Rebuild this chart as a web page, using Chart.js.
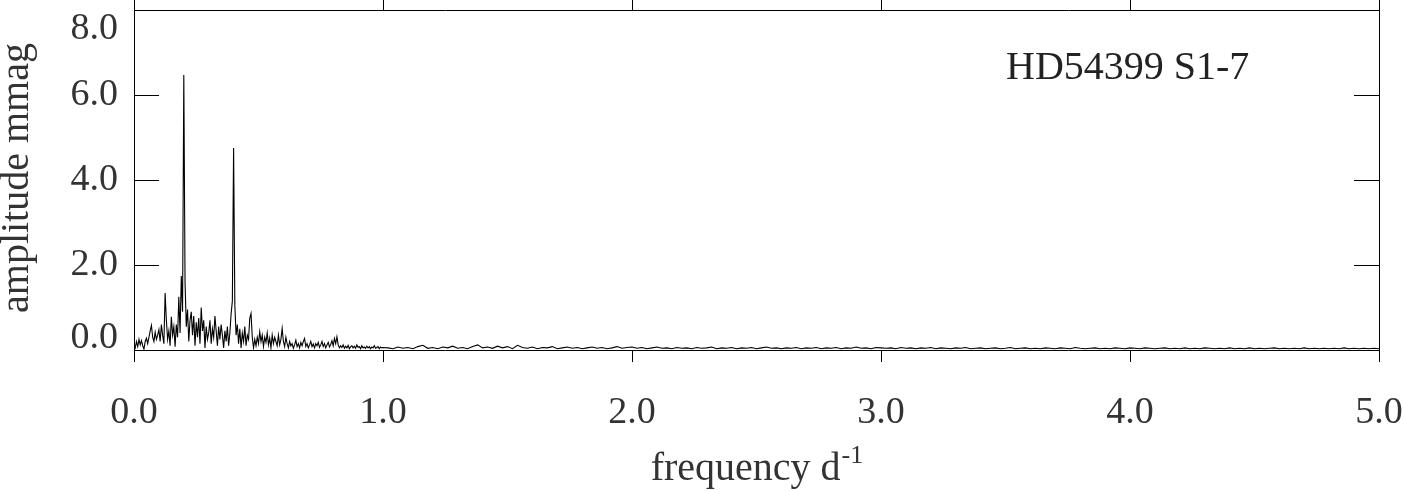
<!DOCTYPE html>
<html>
<head>
<meta charset="utf-8">
<script src="https://cdn.jsdelivr.net/npm/chart.js@4.4.1/dist/chart.umd.min.js"></script>
<style>
  html, body { margin: 0; padding: 0; background: #fff; }
  #wrap { width: 1404px; height: 491px; }
</style>
</head>
<body>
<div id="wrap"><canvas id="periodogram"></canvas></div>
<script>
// amplitude spectrum, 0.0 - 1.0 d-1, step 0.005
const lowStart = 0.0;
const lowStep = 0.005;
const lowAmp = [
  0.12, 0.05, 0.20, 0.08, 0.25, 0.12, 0.22, 0.10, 0.02, 0.20,
  0.28, 0.15, 0.30, 0.45, 0.58, 0.30, 0.20, 0.42, 0.25, 0.35,
  0.48, 0.20, 0.60, 0.35, 0.15, 1.34, 0.70, 0.25, 0.45, 0.10,
  0.78, 0.35, 0.55, 0.08, 0.60, 0.30, 1.25, 0.40, 1.74, 0.90,
  6.47, 1.60, 0.55, 0.95, 0.20, 0.70, 0.90, 0.35, 0.80, 0.10,
  0.65, 0.30, 0.75, 0.15, 1.00, 0.45, 0.70, 0.05, 0.55, 0.25,
  0.40, 0.70, 0.15, 0.50, 0.30, 0.80, 0.45, 0.10, 0.55, 0.25,
  0.60, 0.35, 0.05, 0.45, 0.20, 0.55, 0.10, 0.40, 0.85, 1.15,
  4.75, 1.05, 0.35, 0.60, 0.15, 0.50, 0.05, 0.40, 0.20, 0.55,
  0.10, 0.35, 0.25, 0.75, 0.86, 0.30, 0.05, 0.25, 0.10, 0.30,
  0.15, 0.43, 0.20, 0.35, 0.08, 0.30, 0.18, 0.40, 0.12, 0.28,
  0.05, 0.35, 0.15, 0.30, 0.20, 0.10, 0.35, 0.12, 0.25, 0.51,
  0.20, 0.08, 0.30, 0.15, 0.05, 0.20, 0.10, 0.15, 0.04, 0.12,
  0.23, 0.08, 0.15, 0.05, 0.18, 0.10, 0.20, 0.27, 0.08, 0.15,
  0.05, 0.12, 0.20, 0.08, 0.14, 0.05, 0.15, 0.10, 0.18, 0.06,
  0.12, 0.20, 0.08, 0.15, 0.05, 0.12, 0.18, 0.07, 0.13, 0.22,
  0.10, 0.27, 0.15, 0.31, 0.12, 0.05, 0.10, 0.06, 0.12, 0.04,
  0.09, 0.05, 0.11, 0.03, 0.08, 0.10, 0.05, 0.09, 0.04, 0.12,
  0.06, 0.08, 0.03, 0.10, 0.05, 0.07, 0.04, 0.09, 0.05, 0.08,
  0.03, 0.07, 0.05, 0.10, 0.04, 0.06, 0.08, 0.03, 0.07, 0.05,
  0.06
];

// amplitude spectrum, 1.02 - 5.0 d-1, step 0.02
const highStart = 1.02;
const highStep = 0.02;
const highAmp = [
  0.05, 0.03, 0.07, 0.04, 0.06, 0.03, 0.08, 0.11, 0.04, 0.06,
  0.03, 0.07, 0.05, 0.09, 0.04, 0.06, 0.03, 0.08, 0.12, 0.05,
  0.07, 0.04, 0.09, 0.05, 0.08, 0.03, 0.11, 0.06, 0.04, 0.07,
  0.03, 0.06, 0.05, 0.08, 0.03, 0.05, 0.07, 0.04, 0.06, 0.03,
  0.05, 0.07, 0.04, 0.06, 0.03, 0.05, 0.08, 0.04, 0.06, 0.07,
  0.04, 0.06, 0.03, 0.05, 0.07, 0.04, 0.05, 0.03, 0.06, 0.04,
  0.05, 0.03, 0.06, 0.04, 0.05, 0.07, 0.03, 0.05, 0.04, 0.06,
  0.03, 0.05, 0.04, 0.06, 0.03, 0.05, 0.07, 0.04, 0.05, 0.03,
  0.05, 0.04, 0.06, 0.03, 0.05, 0.04, 0.06, 0.03, 0.05, 0.04,
  0.06, 0.03, 0.05, 0.04, 0.07, 0.04, 0.05, 0.03, 0.06, 0.05,
  0.04, 0.05, 0.03, 0.06, 0.04, 0.05, 0.03, 0.05, 0.04, 0.06,
  0.03, 0.05, 0.04, 0.03, 0.05, 0.04, 0.06, 0.03, 0.04, 0.05,
  0.03, 0.04, 0.05, 0.03, 0.04, 0.06, 0.03, 0.04, 0.05, 0.03,
  0.04, 0.03, 0.05, 0.04, 0.03, 0.05, 0.04, 0.03, 0.06, 0.04,
  0.03, 0.04, 0.05, 0.03, 0.04, 0.03, 0.05, 0.04, 0.03, 0.05,
  0.04, 0.03, 0.05, 0.04, 0.03, 0.04, 0.05, 0.03, 0.04, 0.03,
  0.05, 0.03, 0.04, 0.03, 0.05, 0.04, 0.03, 0.04, 0.03, 0.05,
  0.03, 0.04, 0.03, 0.05, 0.03, 0.04, 0.03, 0.04, 0.05, 0.03,
  0.04, 0.03, 0.04, 0.03, 0.05, 0.03, 0.04, 0.03, 0.04, 0.03,
  0.04, 0.03, 0.05, 0.03, 0.04, 0.03, 0.04, 0.03, 0.04, 0.03
];

const xTicks = [0, 1, 2, 3, 4, 5];
const yTicks = [0, 2, 4, 6, 8];
const starLabel = 'HD54399 S1-7';
const xTitle = 'frequency d';
const xTitleSup = '-1';
const yTitle = 'amplitude mmag';

const FONT = '"Liberation Serif", "Times New Roman", serif';
const TEXT = '#333';

// frequency grid for each segment
const points = [];
lowAmp.forEach((a, i) => points.push({ x: +(lowStart + i * lowStep).toFixed(3), y: a }));
highAmp.forEach((a, i) => points.push({ x: +(highStart + i * highStep).toFixed(3), y: a }));

// frame, inward y ticks, clamped y labels, titles
const framePlugin = {
  id: 'frame',
  afterDraw(chart) {
    const { ctx, chartArea: ca, scales } = chart;
    const y = scales.y;
    ctx.save();
    ctx.strokeStyle = '#000';
    ctx.lineWidth = 1;

    // right border
    ctx.beginPath();
    ctx.moveTo(ca.right + 0.5, ca.top);
    ctx.lineTo(ca.right + 0.5, ca.bottom);
    ctx.stroke();

    // inward ticks on left and right
    yTicks.forEach(v => {
      const py = Math.round(y.getPixelForValue(v)) + 0.5;
      ctx.beginPath();
      ctx.moveTo(ca.left, py);
      ctx.lineTo(ca.left + 25, py);
      ctx.moveTo(ca.right, py);
      ctx.lineTo(ca.right - 25, py);
      ctx.stroke();
    });

    // y labels, kept inside the axis span
    ctx.fillStyle = TEXT;
    ctx.font = '38px ' + FONT;
    ctx.textAlign = 'right';
    ctx.textBaseline = 'middle';
    yTicks.forEach(v => {
      let py = y.getPixelForValue(v);
      py = Math.min(Math.max(py, ca.top + 19), ca.bottom - 12);
      ctx.fillText(v.toFixed(1), ca.left - 16, py);
    });

    // x title with superscript
    ctx.textAlign = 'left';
    ctx.textBaseline = 'alphabetic';
    ctx.font = '40px ' + FONT;
    const w1 = ctx.measureText(xTitle).width;
    ctx.font = '26px ' + FONT;
    const w2 = ctx.measureText(xTitleSup).width;
    const cx = (ca.left + ca.right) / 2;
    const x0 = cx - (w1 + w2) / 2;
    ctx.font = '40px ' + FONT;
    ctx.fillText(xTitle, x0, 480);
    ctx.font = '26px ' + FONT;
    ctx.fillText(xTitleSup, x0 + w1 + 1, 463);

    // y title
    ctx.save();
    ctx.translate(28, (ca.top + ca.bottom) / 2 - 2);
    ctx.rotate(-Math.PI / 2);
    ctx.textAlign = 'center';
    ctx.font = '40px ' + FONT;
    ctx.fillText(yTitle, 0, 0);
    ctx.restore();

    // star label
    ctx.fillStyle = '#222';
    ctx.font = '40px ' + FONT;
    ctx.textAlign = 'left';
    ctx.fillText(starLabel, 1006, 79);

    ctx.restore();
  }
};

const noLabelPad = s => { s.paddingLeft = 0; s.paddingRight = 0; };

const ctx = document.getElementById('periodogram').getContext('2d');
new Chart(ctx, {
  type: 'line',
  data: {
    datasets: [{
      data: points,
      borderColor: '#000',
      borderWidth: 1.1,
      pointRadius: 0,
      tension: 0,
      fill: false
    }]
  },
  options: {
    responsive: true,
    maintainAspectRatio: false,
    animation: false,
    layout: { padding: { left: 0, right: 25, top: 0, bottom: 0 } },
    plugins: { legend: { display: false }, tooltip: { enabled: false } },
    scales: {
      x: {
        type: 'linear',
        position: 'bottom',
        min: 0,
        max: 5,
        afterBuildTicks: s => { s.ticks = xTicks.map(v => ({ value: v })); },
        afterFit: s => { s.height = 141; noLabelPad(s); },
        ticks: {
          color: TEXT,
          font: { family: FONT, size: 38 },
          padding: 28,
          maxRotation: 0,
          callback: v => v.toFixed(1)
        },
        grid: { drawOnChartArea: false, tickLength: 12, color: '#000', lineWidth: 1 },
        border: { display: true, color: '#000', width: 1 }
      },
      xTop: {
        type: 'linear',
        position: 'top',
        min: 0,
        max: 5,
        afterBuildTicks: s => { s.ticks = xTicks.map(v => ({ value: v })); },
        afterFit: s => { s.height = 10; noLabelPad(s); },
        ticks: { display: false },
        grid: { drawOnChartArea: false, tickLength: 10, color: '#000', lineWidth: 1 },
        border: { display: true, color: '#000', width: 1 }
      },
      y: {
        type: 'linear',
        position: 'left',
        min: 0,
        max: 8,
        afterBuildTicks: s => { s.ticks = yTicks.map(v => ({ value: v })); },
        afterFit: s => { s.width = 134; },
        ticks: { display: false },
        grid: { display: true, drawOnChartArea: false, drawTicks: false },
        border: { display: true, color: '#000', width: 1 }
      }
    }
  },
  plugins: [framePlugin]
});
</script>
</body>
</html>
